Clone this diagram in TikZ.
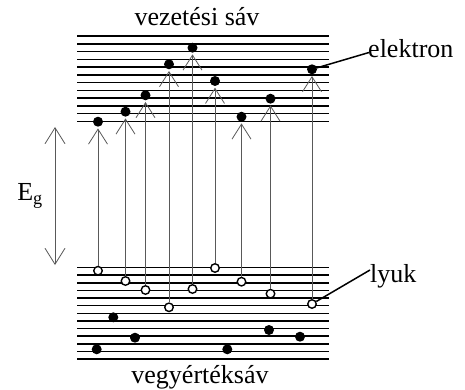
\documentclass[tikz,border=0pt]{standalone}
\usepackage{fontspec}
\setmainfont{Liberation Serif}
\usetikzlibrary{arrows.meta}
\begin{document}
\begin{tikzpicture}[x=1pt,y=-1pt,
 band/.style={line width=1.5pt},
 elec/.style={circle,fill=black,inner sep=0pt,minimum size=10pt},
 hole/.style={circle,draw=black,fill=white,line width=1.4pt,inner sep=0pt,minimum size=8.5pt},
 exc/.style={draw=black!65,line width=0.8pt,-{Straight Barb[length=15pt,width=19pt]},shorten >=1.5pt},
 gap/.style={draw=black!65,line width=0.8pt,{Straight Barb[length=16pt,width=20pt]}-{Straight Barb[length=16pt,width=20pt]}},
 lbl/.style={font=\fontsize{26}{30}\selectfont,inner sep=0pt},
 lead/.style={line width=1.5pt}]
\useasboundingbox (0,0) rectangle (465,390);
% bands
\foreach \i in {0,...,11} \draw[band] (77,36+7.77*\i) -- (329,36+7.77*\i);
\foreach \i in {0,...,12} \draw[band] (77,267.5+7.625*\i) -- (329,267.5+7.625*\i);
% conduction electrons
\node[elec] (e1) at (98,121.7) {};
\node[elec] (e2) at (125.5,111.7) {};
\node[elec] (e3) at (145.5,95.3) {};
\node[elec] (e4) at (169,64.3) {};
\node[elec] (e5) at (192.5,47.7) {};
\node[elec] (e6) at (215,81) {};
\node[elec] (e7) at (241.5,116.7) {};
\node[elec] (e8) at (270.5,98.7) {};
\node[elec] (e9) at (312,69.3) {};
% holes
\node[hole] (h1) at (98,270.7) {};
\node[hole] (h2) at (125.5,281) {};
\node[hole] (h3) at (145.5,290) {};
\node[hole] (h4) at (169,307.3) {};
\node[hole] (h5) at (192.5,289) {};
\node[hole] (h6) at (215,268) {};
\node[hole] (h7) at (241.5,281.7) {};
\node[hole] (h8) at (270.5,293.7) {};
\node[hole] (h9) at (312,304) {};
% valence electrons
\node[elec] (v1) at (113.3,317.3) {};
\node[elec] (v2) at (135,337.7) {};
\node[elec] (v3) at (96.7,349.3) {};
\node[elec] (v4) at (227.3,349.3) {};
\node[elec] (v5) at (269,330) {};
\node[elec] (v6) at (300,336.7) {};
% excitations
\foreach \k in {1,...,9} \draw[exc] (h\k) -- (e\k);
% band gap
\coordinate (gt) at (55,127);
\coordinate (gb) at (55,265);
\draw[gap] (gb) -- (gt);
\node[lbl] (eg) at (30,196) {E\textsubscript{g}};
% labels
\node[lbl,anchor=base] (vez) at (197,26) {vezetési sáv};
\node[lbl,anchor=base] (veg) at (200,383) {vegyértéksáv};
\node[lbl,anchor=base west] (elk) at (368,58) {elektron};
\node[lbl,anchor=base west] (lyk) at (370,282) {lyuk};
\coordinate (elkend) at (369,52.5);
\coordinate (lykend) at (370,270);
\draw[lead] (e9) -- (elkend);
\draw[lead] (h9) -- (lykend);
\end{tikzpicture}
\end{document}
